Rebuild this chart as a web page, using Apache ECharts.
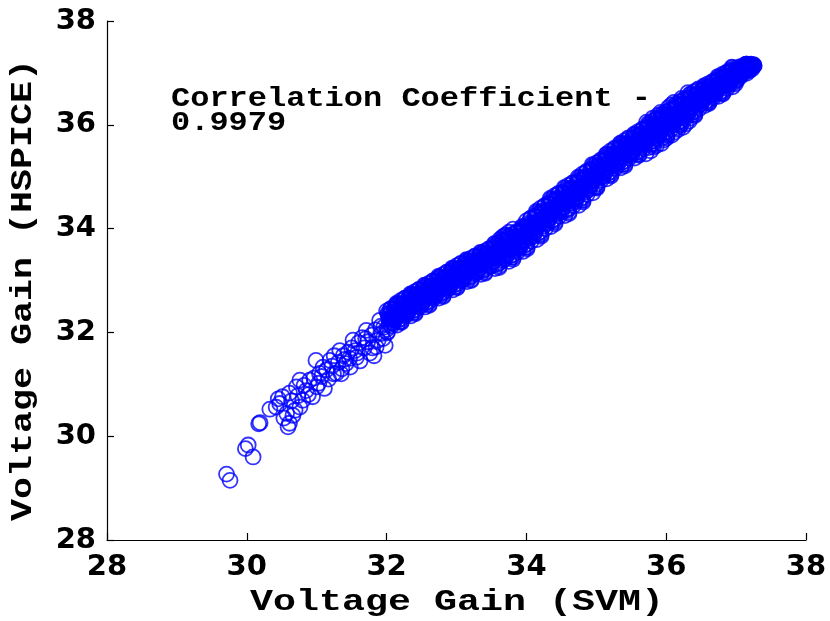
<!DOCTYPE html>
<html>
<head>
<meta charset="utf-8">
<script src="https://cdn.jsdelivr.net/npm/echarts@6/dist/echarts.min.js"></script>
<style>html,body{margin:0;padding:0;background:#fff}#chart{width:830px;height:621px}</style>
</head>
<body>
<div id="chart"></div>
<script>
// ---- data ----
const xTitle = 'Voltage Gain (SVM)';
const yTitle = 'Voltage Gain (HSPICE)';
const noteLine1 = 'Correlation Coefficient -';
const noteLine2 = '0.9979';
const axisMin = 28, axisMax = 38, axisStep = 2;

// sparse lower tail
const tailPoints = [[29.71,29.27],[29.76,29.15],[29.98,29.76],[30.02,29.83],[30.09,29.60],[30.17,30.24],[30.19,30.26]];

// looser part of the band, 30.3 - 32.0
const lowerPoints = [
[30.42,30.56],[30.47,30.63],[30.51,30.76],[30.61,30.83],[30.57,30.44],[30.61,30.25],[30.59,30.18],[30.71,30.95],[30.69,30.50],[30.76,30.56],
[30.80,30.69],[30.85,30.88],[30.76,31.08],[30.90,31.08],[30.94,30.76],[31.00,30.95],[31.04,31.21],[31.09,31.33],[31.11,30.92],[30.99,31.46],
[31.19,31.46],[31.28,31.21],[31.33,31.65],[31.42,31.40],[31.52,31.85],[31.57,31.52],[31.71,32.04],[31.76,31.60],[31.90,32.23],[31.85,31.72],
[30.33,30.52],[30.45,30.72],[30.53,30.35],[30.64,30.68],[30.66,30.40],[30.73,30.78],[30.82,30.98],[30.88,30.80],[30.96,31.12],[31.03,31.02],
[31.07,31.15],[31.14,31.28],[31.17,31.10],[31.22,31.35],[31.25,31.55],[31.31,31.42],[31.36,31.30],[31.38,31.55],[31.45,31.62],[31.48,31.33],
[31.50,31.70],[31.55,31.65],[31.60,31.80],[31.62,31.45],[31.65,31.90],[31.68,31.70],[31.73,31.82],[31.79,31.95],[31.82,31.55],[31.84,32.05],
[31.88,31.85],[31.93,31.98],[31.96,32.10],[31.98,31.75],[31.24,31.20],[31.40,31.48],[31.58,31.60],[31.70,31.88],[31.80,31.70],[31.92,32.12],
[31.95,31.88],[31.35,31.20],[31.47,31.50]
];

// dense part of the band, 32.0 - 37.26 (first pass)
const bandPointsA = [
[32.01,32.01],[32.05,32.15],[32.08,32.28],[32.03,32.32],[32.06,32.45],[32.09,32.25],[32.02,32.35],[32.07,32.12],[32.04,32.27],[32.00,32.41],
[32.12,32.50],[32.16,32.43],[32.19,32.21],[32.14,32.32],[32.10,32.18],[32.17,32.48],[32.13,32.25],[32.18,32.42],[32.15,32.55],[32.11,32.32],
[32.21,32.21],[32.25,32.35],[32.28,32.48],[32.23,32.52],[32.26,32.65],[32.29,32.45],[32.22,32.55],[32.27,32.32],[32.24,32.47],[32.20,32.61],
[32.32,32.68],[32.36,32.61],[32.39,32.39],[32.34,32.50],[32.30,32.36],[32.37,32.66],[32.33,32.43],[32.38,32.60],[32.35,32.73],[32.31,32.50],
[32.41,32.38],[32.45,32.52],[32.48,32.65],[32.43,32.69],[32.46,32.82],[32.49,32.62],[32.42,32.72],[32.47,32.49],[32.44,32.64],[32.40,32.78],
[32.52,32.85],[32.56,32.78],[32.59,32.56],[32.54,32.67],[32.50,32.53],[32.57,32.83],[32.53,32.60],[32.58,32.77],[32.55,32.90],[32.51,32.67],
[32.61,32.54],[32.65,32.68],[32.68,32.81],[32.63,32.85],[32.66,32.98],[32.69,32.78],[32.62,32.88],[32.67,32.65],[32.64,32.80],[32.60,32.94],
[32.72,33.02],[32.76,32.95],[32.79,32.73],[32.74,32.84],[32.70,32.70],[32.77,33.00],[32.73,32.77],[32.78,32.94],[32.75,33.07],[32.71,32.84],
[32.81,32.71],[32.85,32.85],[32.88,32.98],[32.83,33.02],[32.86,33.15],[32.89,32.95],[32.82,33.05],[32.87,32.82],[32.84,32.97],[32.80,33.11],
[32.92,33.18],[32.96,33.11],[32.99,32.89],[32.94,33.00],[32.90,32.86],[32.97,33.16],[32.93,32.93],[32.98,33.10],[32.95,33.23],[32.91,33.00],
[33.01,32.88],[33.05,33.02],[33.08,33.15],[33.03,33.19],[33.06,33.32],[33.09,33.12],[33.02,33.22],[33.07,32.99],[33.04,33.14],[33.00,33.28],
[33.12,33.34],[33.16,33.27],[33.19,33.05],[33.14,33.16],[33.10,33.02],[33.17,33.32],[33.13,33.09],[33.18,33.26],[33.15,33.39],[33.11,33.16],
[33.21,33.02],[33.25,33.16],[33.28,33.29],[33.23,33.33],[33.26,33.46],[33.29,33.26],[33.22,33.36],[33.27,33.13],[33.24,33.28],[33.20,33.42],
[33.32,33.48],[33.36,33.41],[33.39,33.19],[33.34,33.30],[33.30,33.16],[33.37,33.46],[33.33,33.23],[33.38,33.40],[33.35,33.53],[33.31,33.30],
[33.41,33.16],[33.45,33.30],[33.48,33.43],[33.43,33.47],[33.46,33.60],[33.49,33.40],[33.42,33.50],[33.47,33.27],[33.44,33.42],[33.40,33.56],
[33.52,33.64],[33.56,33.56],[33.59,33.31],[33.54,33.44],[33.50,33.28],[33.57,33.62],[33.53,33.36],[33.58,33.55],[33.55,33.70],[33.51,33.44],
[33.61,33.28],[33.65,33.43],[33.68,33.57],[33.63,33.62],[33.66,33.76],[33.69,33.53],[33.62,33.66],[33.67,33.39],[33.64,33.57],[33.60,33.73],
[33.72,33.78],[33.76,33.70],[33.79,33.45],[33.74,33.58],[33.70,33.42],[33.77,33.76],[33.73,33.50],[33.78,33.69],[33.75,33.84],[33.71,33.58],
[33.81,33.44],[33.85,33.59],[33.88,33.73],[33.83,33.78],[33.86,33.92],[33.89,33.69],[33.82,33.82],[33.87,33.55],[33.84,33.73],[33.80,33.89],
[33.92,33.97],[33.96,33.89],[33.99,33.64],[33.94,33.77],[33.90,33.61],[33.97,33.95],[33.93,33.69],[33.98,33.88],[33.95,34.03],[33.91,33.77],
[34.01,33.64],[34.05,33.81],[34.08,33.98],[34.03,34.03],[34.06,34.19],[34.09,33.93],[34.02,34.07],[34.07,33.76],[34.04,33.97],[34.00,34.15],
[34.12,34.24],[34.16,34.15],[34.19,33.89],[34.14,34.02],[34.10,33.85],[34.17,34.22],[34.13,33.94],[34.18,34.16],[34.15,34.31],[34.11,34.02],
[34.21,33.88],[34.25,34.05],[34.28,34.22],[34.23,34.27],[34.26,34.43],[34.29,34.17],[34.22,34.31],[34.27,34.00],[34.24,34.21],[34.20,34.39],
[34.32,34.49],[34.36,34.40],[34.39,34.14],[34.34,34.27],[34.30,34.10],[34.37,34.47],[34.33,34.19],[34.38,34.41],[34.35,34.56],[34.31,34.27],
[34.41,34.12],[34.45,34.29],[34.48,34.46],[34.43,34.51],[34.46,34.67],[34.49,34.41],[34.42,34.55],[34.47,34.24],[34.44,34.45],[34.40,34.63],
[34.52,34.70],[34.56,34.61],[34.59,34.35],[34.54,34.48],[34.50,34.31],[34.57,34.68],[34.53,34.40],[34.58,34.62],[34.55,34.77],[34.51,34.48],
[34.61,34.32],[34.65,34.49],[34.68,34.66],[34.63,34.71],[34.66,34.87],[34.69,34.61],[34.62,34.75],[34.67,34.44],[34.64,34.65],[34.60,34.83],
[34.72,34.90],[34.76,34.81],[34.79,34.55],[34.74,34.68],[34.70,34.51],[34.77,34.88],[34.73,34.60],[34.78,34.82],[34.75,34.97],[34.71,34.68],
[34.81,34.54],[34.85,34.71],[34.88,34.88],[34.83,34.93],[34.86,35.09],[34.89,34.83],[34.82,34.97],[34.87,34.66],[34.84,34.87],[34.80,35.05],
[34.92,35.14],[34.96,35.05],[34.99,34.79],[34.94,34.92],[34.90,34.75],[34.97,35.12],[34.93,34.84],[34.98,35.06],[34.95,35.21],[34.91,34.92],
[35.01,34.81],[35.05,34.97],[35.08,35.11],[35.03,35.15],[35.06,35.30],[35.09,35.07],[35.02,35.19],[35.07,34.93],[35.04,35.10],[35.00,35.26],
[35.12,35.36],[35.16,35.29],[35.19,35.04],[35.14,35.16],[35.10,35.00],[35.17,35.35],[35.13,35.08],[35.18,35.28],[35.15,35.43],[35.11,35.16],
[35.21,35.04],[35.25,35.20],[35.28,35.34],[35.23,35.38],[35.26,35.53],[35.29,35.30],[35.22,35.42],[35.27,35.16],[35.24,35.33],[35.20,35.49],
[35.32,35.57],[35.36,35.50],[35.39,35.25],[35.34,35.37],[35.30,35.21],[35.37,35.56],[35.33,35.29],[35.38,35.49],[35.35,35.64],[35.31,35.37],
[35.41,35.24],[35.45,35.40],[35.48,35.54],[35.43,35.58],[35.46,35.73],[35.49,35.50],[35.42,35.62],[35.47,35.36],[35.44,35.53],[35.40,35.69],
[35.52,35.75],[35.56,35.67],[35.59,35.44],[35.54,35.56],[35.50,35.41],[35.57,35.73],[35.53,35.49],[35.58,35.67],[35.55,35.81],[35.51,35.56],
[35.61,35.43],[35.65,35.58],[35.68,35.72],[35.63,35.77],[35.66,35.90],[35.69,35.68],[35.62,35.80],[35.67,35.54],[35.64,35.72],[35.60,35.87],
[35.72,35.95],[35.76,35.87],[35.79,35.64],[35.74,35.76],[35.70,35.61],[35.77,35.93],[35.73,35.69],[35.78,35.87],[35.75,36.01],[35.71,35.76],
[35.81,35.63],[35.85,35.78],[35.88,35.92],[35.83,35.97],[35.86,36.10],[35.89,35.88],[35.82,36.00],[35.87,35.74],[35.84,35.92],[35.80,36.07],
[35.92,36.14],[35.96,36.06],[35.99,35.83],[35.94,35.95],[35.90,35.80],[35.97,36.12],[35.93,35.88],[35.98,36.06],[35.95,36.20],[35.91,35.95],
[36.01,35.81],[36.05,35.96],[36.08,36.10],[36.03,36.15],[36.06,36.28],[36.09,36.06],[36.02,36.18],[36.07,35.92],[36.04,36.10],[36.00,36.25],
[36.12,36.33],[36.16,36.25],[36.19,36.02],[36.14,36.14],[36.10,35.99],[36.17,36.31],[36.13,36.07],[36.18,36.25],[36.15,36.39],[36.11,36.14],
[36.21,36.01],[36.25,36.16],[36.28,36.30],[36.23,36.35],[36.26,36.48],[36.29,36.26],[36.22,36.38],[36.27,36.12],[36.24,36.30],[36.20,36.45],
[36.32,36.52],[36.36,36.44],[36.39,36.21],[36.34,36.33],[36.30,36.18],[36.37,36.50],[36.33,36.26],[36.38,36.44],[36.35,36.58],[36.31,36.33],
[36.41,36.20],[36.45,36.35],[36.48,36.49],[36.43,36.54],[36.46,36.67],[36.49,36.45],[36.42,36.57],[36.47,36.31],[36.44,36.49],[36.40,36.64],
[36.52,36.69],[36.56,36.62],[36.59,36.43],[36.54,36.53],[36.50,36.40],[36.57,36.67],[36.53,36.47],[36.58,36.62],[36.55,36.74],[36.51,36.53],
[36.61,36.43],[36.65,36.56],[36.68,36.67],[36.63,36.71],[36.66,36.82],[36.69,36.64],[36.62,36.74],[36.67,36.52],[36.64,36.67],[36.60,36.79],
[36.72,36.87],[36.76,36.80],[36.79,36.61],[36.74,36.71],[36.70,36.58],[36.77,36.85],[36.73,36.65],[36.78,36.80],[36.75,36.92],[36.71,36.71],
[36.81,36.61],[36.85,36.74],[36.88,36.85],[36.83,36.89],[36.86,37.00],[36.89,36.82],[36.82,36.92],[36.87,36.70],[36.84,36.85],[36.80,36.97],
[36.92,37.05],[36.96,36.98],[36.99,36.79],[36.94,36.89],[36.90,36.76],[36.97,37.03],[36.93,36.83],[36.98,36.98],[36.95,37.10],[36.91,36.89],
[37.01,36.86],[37.05,36.96],[37.08,37.03],[37.03,37.04],[37.06,37.11],[37.09,37.02],[37.02,37.05],[37.07,36.94],[37.04,37.02],[37.00,37.07],
[37.12,37.15],[37.16,37.13],[37.19,37.04],[37.14,37.07],[37.10,36.99],[37.17,37.16],[37.13,37.04],[37.18,37.14],[37.15,37.17],[37.11,37.07],
[37.20,37.10],[37.22,37.15],[37.24,37.12],[37.21,37.17],[37.25,37.16],[37.23,37.08],[37.26,37.14],[37.20,37.14]
];

// dense part of the band, 32.0 - 37.25 (second pass, points in between)
const bandPointsB = [
[32.00,32.06],[32.04,32.19],[32.07,32.31],[32.02,32.37],[32.09,32.28],[32.05,32.35],[32.01,31.99],[32.06,32.46],[32.03,32.25],[32.08,32.19],
[32.13,32.46],[32.17,32.24],[32.10,32.38],[32.15,32.14],[32.19,32.39],[32.11,32.24],[32.16,32.53],[32.12,32.38],[32.18,32.35],[32.14,32.56],
[32.20,32.26],[32.24,32.39],[32.27,32.51],[32.22,32.57],[32.29,32.48],[32.25,32.55],[32.21,32.19],[32.26,32.66],[32.23,32.45],[32.28,32.39],
[32.33,32.64],[32.37,32.42],[32.30,32.56],[32.35,32.32],[32.39,32.57],[32.31,32.42],[32.36,32.71],[32.32,32.56],[32.38,32.53],[32.34,32.74],
[32.40,32.43],[32.44,32.56],[32.47,32.68],[32.42,32.74],[32.49,32.65],[32.45,32.72],[32.41,32.36],[32.46,32.83],[32.43,32.62],[32.48,32.56],
[32.53,32.81],[32.57,32.59],[32.50,32.73],[32.55,32.49],[32.59,32.74],[32.51,32.59],[32.56,32.88],[32.52,32.73],[32.58,32.70],[32.54,32.91],
[32.60,32.59],[32.64,32.72],[32.67,32.84],[32.62,32.90],[32.69,32.81],[32.65,32.88],[32.61,32.52],[32.66,32.99],[32.63,32.78],[32.68,32.72],
[32.73,32.98],[32.77,32.76],[32.70,32.90],[32.75,32.66],[32.79,32.91],[32.71,32.76],[32.76,33.05],[32.72,32.90],[32.78,32.87],[32.74,33.08],
[32.80,32.76],[32.84,32.89],[32.87,33.01],[32.82,33.07],[32.89,32.98],[32.85,33.05],[32.81,32.69],[32.86,33.16],[32.83,32.95],[32.88,32.89],
[32.93,33.14],[32.97,32.92],[32.90,33.06],[32.95,32.82],[32.99,33.07],[32.91,32.92],[32.96,33.21],[32.92,33.06],[32.98,33.03],[32.94,33.24],
[33.00,32.93],[33.04,33.06],[33.07,33.18],[33.02,33.24],[33.09,33.15],[33.05,33.22],[33.01,32.86],[33.06,33.33],[33.03,33.12],[33.08,33.06],
[33.13,33.30],[33.17,33.08],[33.10,33.22],[33.15,32.98],[33.19,33.23],[33.11,33.08],[33.16,33.37],[33.12,33.22],[33.18,33.19],[33.14,33.40],
[33.20,33.07],[33.24,33.20],[33.27,33.32],[33.22,33.38],[33.29,33.29],[33.25,33.36],[33.21,33.00],[33.26,33.47],[33.23,33.26],[33.28,33.20],
[33.33,33.44],[33.37,33.22],[33.30,33.36],[33.35,33.12],[33.39,33.37],[33.31,33.22],[33.36,33.51],[33.32,33.36],[33.38,33.33],[33.34,33.54],
[33.40,33.21],[33.44,33.34],[33.47,33.46],[33.42,33.52],[33.49,33.43],[33.45,33.50],[33.41,33.14],[33.46,33.61],[33.43,33.40],[33.48,33.34],
[33.53,33.60],[33.57,33.34],[33.50,33.51],[33.55,33.23],[33.59,33.51],[33.51,33.36],[33.56,33.67],[33.52,33.50],[33.58,33.46],[33.54,33.71],
[33.60,33.33],[33.64,33.47],[33.67,33.61],[33.62,33.69],[33.69,33.57],[33.65,33.65],[33.61,33.25],[33.66,33.78],[33.63,33.55],[33.68,33.47],
[33.73,33.74],[33.77,33.48],[33.70,33.65],[33.75,33.37],[33.79,33.65],[33.71,33.50],[33.76,33.81],[33.72,33.64],[33.78,33.60],[33.74,33.85],
[33.80,33.49],[33.84,33.63],[33.87,33.77],[33.82,33.85],[33.89,33.73],[33.85,33.81],[33.81,33.41],[33.86,33.94],[33.83,33.71],[33.88,33.63],
[33.93,33.93],[33.97,33.67],[33.90,33.84],[33.95,33.56],[33.99,33.84],[33.91,33.69],[33.96,34.00],[33.92,33.83],[33.98,33.79],[33.94,34.04],
[34.00,33.70],[34.04,33.86],[34.07,34.02],[34.02,34.10],[34.09,33.98],[34.05,34.07],[34.01,33.61],[34.06,34.20],[34.03,33.95],[34.08,33.87],
[34.13,34.21],[34.17,33.91],[34.10,34.10],[34.15,33.79],[34.19,34.11],[34.11,33.93],[34.16,34.28],[34.12,34.09],[34.18,34.06],[34.14,34.33],
[34.20,33.94],[34.24,34.10],[34.27,34.26],[34.22,34.34],[34.29,34.22],[34.25,34.31],[34.21,33.85],[34.26,34.44],[34.23,34.19],[34.28,34.11],
[34.33,34.46],[34.37,34.16],[34.30,34.35],[34.35,34.04],[34.39,34.36],[34.31,34.18],[34.36,34.53],[34.32,34.34],[34.38,34.31],[34.34,34.58],
[34.40,34.18],[34.44,34.34],[34.47,34.50],[34.42,34.58],[34.49,34.46],[34.45,34.55],[34.41,34.09],[34.46,34.68],[34.43,34.43],[34.48,34.35],
[34.53,34.67],[34.57,34.37],[34.50,34.56],[34.55,34.25],[34.59,34.57],[34.51,34.39],[34.56,34.74],[34.52,34.55],[34.58,34.52],[34.54,34.79],
[34.60,34.38],[34.64,34.54],[34.67,34.70],[34.62,34.78],[34.69,34.66],[34.65,34.75],[34.61,34.29],[34.66,34.88],[34.63,34.63],[34.68,34.55],
[34.73,34.87],[34.77,34.57],[34.70,34.76],[34.75,34.45],[34.79,34.77],[34.71,34.59],[34.76,34.94],[34.72,34.75],[34.78,34.72],[34.74,34.99],
[34.80,34.60],[34.84,34.76],[34.87,34.92],[34.82,35.00],[34.89,34.88],[34.85,34.97],[34.81,34.51],[34.86,35.10],[34.83,34.85],[34.88,34.77],
[34.93,35.11],[34.97,34.81],[34.90,35.00],[34.95,34.69],[34.99,35.01],[34.91,34.83],[34.96,35.18],[34.92,34.99],[34.98,34.96],[34.94,35.23],
[35.00,34.86],[35.04,35.00],[35.07,35.15],[35.02,35.22],[35.09,35.11],[35.05,35.19],[35.01,34.78],[35.06,35.32],[35.03,35.08],[35.08,35.01],
[35.13,35.32],[35.17,35.07],[35.10,35.23],[35.15,34.96],[35.19,35.24],[35.11,35.08],[35.16,35.40],[35.12,35.22],[35.18,35.19],[35.14,35.43],
[35.20,35.09],[35.24,35.23],[35.27,35.38],[35.22,35.45],[35.29,35.34],[35.25,35.42],[35.21,35.01],[35.26,35.55],[35.23,35.31],[35.28,35.24],
[35.33,35.53],[35.37,35.28],[35.30,35.44],[35.35,35.17],[35.39,35.45],[35.31,35.29],[35.36,35.61],[35.32,35.43],[35.38,35.40],[35.34,35.64],
[35.40,35.29],[35.44,35.43],[35.47,35.58],[35.42,35.65],[35.49,35.54],[35.45,35.62],[35.41,35.21],[35.46,35.75],[35.43,35.51],[35.48,35.44],
[35.53,35.71],[35.57,35.47],[35.50,35.62],[35.55,35.36],[35.59,35.63],[35.51,35.48],[35.56,35.78],[35.52,35.62],[35.58,35.58],[35.54,35.82],
[35.60,35.48],[35.64,35.62],[35.67,35.76],[35.62,35.83],[35.69,35.72],[35.65,35.80],[35.61,35.41],[35.66,35.92],[35.63,35.69],[35.68,35.62],
[35.73,35.91],[35.77,35.67],[35.70,35.82],[35.75,35.56],[35.79,35.83],[35.71,35.68],[35.76,35.98],[35.72,35.82],[35.78,35.78],[35.74,36.02],
[35.80,35.68],[35.84,35.82],[35.87,35.96],[35.82,36.03],[35.89,35.92],[35.85,36.00],[35.81,35.61],[35.86,36.12],[35.83,35.89],[35.88,35.82],
[35.93,36.10],[35.97,35.86],[35.90,36.01],[35.95,35.75],[35.99,36.02],[35.91,35.87],[35.96,36.17],[35.92,36.01],[35.98,35.97],[35.94,36.21],
[36.00,35.86],[36.04,36.00],[36.07,36.14],[36.02,36.21],[36.09,36.10],[36.05,36.18],[36.01,35.79],[36.06,36.30],[36.03,36.07],[36.08,36.00],
[36.13,36.29],[36.17,36.05],[36.10,36.20],[36.15,35.94],[36.19,36.21],[36.11,36.06],[36.16,36.36],[36.12,36.20],[36.18,36.16],[36.14,36.40],
[36.20,36.06],[36.24,36.20],[36.27,36.34],[36.22,36.41],[36.29,36.30],[36.25,36.38],[36.21,35.99],[36.26,36.50],[36.23,36.27],[36.28,36.20],
[36.33,36.48],[36.37,36.24],[36.30,36.39],[36.35,36.13],[36.39,36.40],[36.31,36.25],[36.36,36.55],[36.32,36.39],[36.38,36.35],[36.34,36.59],
[36.40,36.25],[36.44,36.39],[36.47,36.53],[36.42,36.60],[36.49,36.49],[36.45,36.57],[36.41,36.18],[36.46,36.69],[36.43,36.46],[36.48,36.39],
[36.53,36.66],[36.57,36.45],[36.50,36.58],[36.55,36.37],[36.59,36.59],[36.51,36.46],[36.56,36.71],[36.52,36.58],[36.58,36.55],[36.54,36.75],
[36.60,36.47],[36.64,36.59],[36.67,36.70],[36.62,36.76],[36.69,36.67],[36.65,36.74],[36.61,36.41],[36.66,36.83],[36.63,36.65],[36.68,36.59],
[36.73,36.84],[36.77,36.63],[36.70,36.76],[36.75,36.55],[36.79,36.77],[36.71,36.64],[36.76,36.89],[36.72,36.76],[36.78,36.73],[36.74,36.93],
[36.80,36.65],[36.84,36.77],[36.87,36.88],[36.82,36.94],[36.89,36.85],[36.85,36.92],[36.81,36.59],[36.86,37.01],[36.83,36.83],[36.88,36.77],
[36.93,37.02],[36.97,36.81],[36.90,36.94],[36.95,36.73],[36.99,36.95],[36.91,36.82],[36.96,37.07],[36.92,36.94],[36.98,36.91],[36.94,37.11],
[37.00,36.88],[37.04,36.97],[37.07,37.04],[37.02,37.06],[37.09,37.03],[37.05,37.06],[37.01,36.85],[37.06,37.12],[37.03,37.00],[37.08,36.98],
[37.13,37.13],[37.17,37.05],[37.10,37.09],[37.15,36.99],[37.19,37.12],[37.11,37.03],[37.16,37.17],[37.12,37.10],[37.18,37.09],[37.14,37.17],
[37.22,37.11],[37.24,37.15],[37.19,37.16],[37.25,37.13]
];

// stray points on the band edges
const edgePoints = [
[35.71,35.44],[35.78,35.50],[35.86,35.60],[35.93,35.64],[36.01,35.75],[36.08,35.80],[36.17,35.91],[36.24,35.95],[36.33,36.07],[35.82,35.57],
[35.97,35.71],[36.12,35.86],[36.28,36.02],[35.72,36.05],[35.81,36.13],[35.92,36.24],[36.03,36.33],[36.11,36.43],[36.22,36.51],[36.31,36.62],
[35.88,36.18],[36.07,36.38],[33.62,33.79],[33.69,33.87],[33.75,33.93],[33.81,33.99],[33.66,33.84],[33.72,33.88]
];

// ---- chart ----
const monoFont = 'bold 30px "Liberation Mono"';
const noteFont = 'bold 28px "Liberation Mono"';
function widthOf(text, font) {
  const c = document.createElement('canvas').getContext('2d');
  c.font = font;
  return c.measureText(text).width;
}
const xTitleScale = 414 / widthOf(xTitle, monoFont);
const yTitleScale = 462 / widthOf(yTitle, monoFont);
const noteScale = 480 / widthOf(noteLine1, noteFont);

const chart = echarts.init(document.getElementById('chart'), null, {renderer: 'canvas'});
const axisCommon = {
  type: 'value', min: axisMin, max: axisMax, interval: axisStep,
  axisLine: {show: true, onZero: false, lineStyle: {color: '#000', width: 1.2}},
  axisTick: {show: true, inside: true, length: 7, lineStyle: {color: '#000', width: 1.2}},
  splitLine: {show: false},
  axisLabel: {color: '#000', fontFamily: 'DejaVu Sans', fontWeight: 'bold', fontSize: 29}
};
chart.setOption({
  animation: false,
  backgroundColor: '#fff',
  grid: {left: 107, right: 24, top: 21, bottom: 81, containLabel: false},
  xAxis: Object.assign({}, axisCommon, {axisLabel: Object.assign({}, axisCommon.axisLabel, {margin: 13})}),
  yAxis: Object.assign({}, axisCommon, {axisLabel: Object.assign({}, axisCommon.axisLabel, {margin: 11})}),
  series: [{
    type: 'scatter',
    symbol: 'circle',
    symbolSize: 15,
    large: false,
    progressive: 0,
    itemStyle: {color: 'rgba(0,0,0,0)', borderColor: '#0000ff', borderWidth: 1.8},
    emphasis: {disabled: true},
    data: tailPoints.concat(lowerPoints, bandPointsA, bandPointsB, edgePoints)
  }],
  graphic: [
    {type: 'text', x: 457, y: 602, scaleX: xTitleScale,
     style: {text: xTitle, font: monoFont, fill: '#000', align: 'center', textAlign: 'center', verticalAlign: 'middle', textVerticalAlign: 'middle'}},
    {type: 'text', x: 23, y: 290, rotation: Math.PI / 2, scaleX: yTitleScale,
     style: {text: yTitle, font: monoFont, fill: '#000', align: 'center', textAlign: 'center', verticalAlign: 'middle', textVerticalAlign: 'middle'}},
    {type: 'text', x: 171, y: 99, scaleX: noteScale,
     style: {text: noteLine1, font: noteFont, fill: '#000', align: 'left', textAlign: 'left', verticalAlign: 'middle', textVerticalAlign: 'middle'}},
    {type: 'text', x: 171, y: 123, scaleX: noteScale,
     style: {text: noteLine2, font: noteFont, fill: '#000', align: 'left', textAlign: 'left', verticalAlign: 'middle', textVerticalAlign: 'middle'}}
  ]
});
</script>
</body>
</html>
